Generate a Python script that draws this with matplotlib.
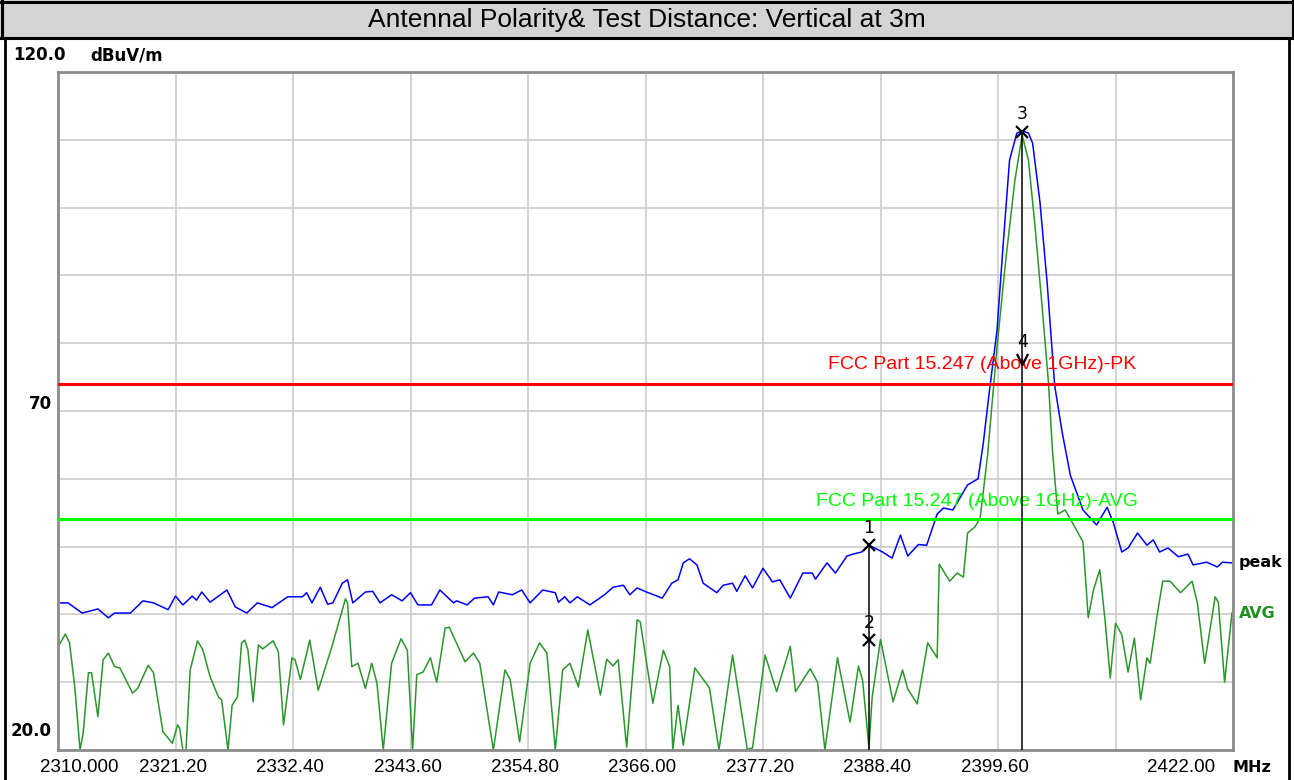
import matplotlib
matplotlib.use("Agg")
import matplotlib.pyplot as plt
from matplotlib.patches import Rectangle
from matplotlib.lines import Line2D
from matplotlib.path import Path

W, H = 1294, 780

title = "Antennal Polarity& Test Distance: Vertical at 3m"

x_ticks = [2310.0, 2321.2, 2332.4, 2343.6, 2354.8, 2366.0, 2377.2, 2388.4, 2399.6, 2410.8, 2422.0]
x_tick_labels = ["2310.000", "2321.20", "2332.40", "2343.60", "2354.80", "2366.00",
                 "2377.20", "2388.40", "2399.60", "", "2422.00"]
y_ticks = [20, 30, 40, 50, 60, 70, 80, 90, 100, 110, 120]

limit_pk = 74.0
limit_avg = 54.0

# peak trace (MHz, dBuV/m)
peak_freq = [2310.0, 2310.95, 2312.3, 2313.8, 2314.8, 2315.4, 2316.9, 2318.1, 2319.1, 2320.5,
             2321.2, 2321.9, 2322.8, 2323.2, 2323.7, 2324.5, 2326.1, 2326.9, 2328.0, 2329.0,
             2330.4, 2331.9, 2333.3, 2333.7, 2334.2, 2335.0, 2335.7, 2336.2, 2337.1, 2337.6,
             2338.1, 2339.3, 2340.0, 2340.7, 2341.8, 2342.8, 2343.6, 2344.3, 2345.6, 2346.4,
             2347.7, 2348.0, 2349.0, 2349.7, 2351.0, 2351.5, 2352.0, 2353.3, 2354.2, 2355.0,
             2356.2, 2357.4, 2357.7, 2358.3, 2358.8, 2359.5, 2360.7, 2362.1, 2362.9, 2363.9,
             2364.5, 2365.2, 2366.1, 2367.6, 2368.5, 2369.1, 2369.6, 2370.2, 2370.9, 2371.5,
             2372.8, 2373.4, 2374.3, 2374.7, 2375.5, 2376.2, 2377.2, 2378.1, 2378.8, 2379.8,
             2381.0, 2381.9, 2382.2, 2383.3, 2384.1, 2385.2, 2385.8, 2386.6, 2387.3, 2388.6,
             2389.5, 2390.3, 2391.0, 2392.0, 2392.8, 2393.8, 2394.4, 2395.3, 2396.7, 2397.7,
             2398.2, 2398.8, 2399.5, 2400.1, 2400.7, 2401.4, 2401.9, 2402.5, 2402.9, 2403.6,
             2404.3, 2405.0, 2405.7, 2406.5, 2407.7, 2409.0, 2410.0, 2410.6, 2411.4, 2412.0,
             2412.9, 2413.8, 2414.4, 2415.0, 2415.8, 2416.8, 2417.7, 2418.2, 2419.5, 2420.5,
             2421.0, 2421.9]
peak_level = [41.7, 41.7, 40.2, 40.8, 39.5, 40.2, 40.2, 42.0, 41.7, 40.7,
              42.7, 41.4, 42.7, 42.1, 43.3, 41.8, 43.6, 41.1, 40.2, 41.7,
              41.0, 42.6, 42.6, 43.2, 41.7, 44.0, 41.5, 41.7, 44.6, 45.1,
              41.7, 43.3, 43.4, 41.7, 42.9, 42.0, 43.2, 41.4, 41.4, 43.6,
              41.7, 42.0, 41.4, 42.4, 42.6, 41.4, 43.3, 42.9, 43.6, 41.7,
              43.6, 43.2, 41.8, 42.6, 41.7, 42.6, 41.4, 42.9, 44.0, 44.3,
              42.9, 43.9, 43.3, 42.4, 44.6, 45.1, 47.6, 48.2, 47.3, 44.6,
              43.2, 44.3, 44.6, 43.4, 45.7, 43.9, 46.8, 44.8, 45.1, 42.4,
              46.1, 46.1, 45.2, 47.6, 46.1, 48.6, 48.9, 49.2, 50.2, 49.2,
              48.3, 51.7, 48.6, 50.3, 50.2, 54.8, 55.7, 55.4, 59.1, 60.0,
              65.3, 73.2, 81.8, 94.7, 107.0, 111.0, 111.3, 111.0, 109.5, 100.8,
              88.6, 73.8, 67.0, 60.5, 55.4, 53.2, 55.8, 53.5, 49.2, 49.8,
              52.0, 50.2, 51.0, 49.2, 49.8, 48.5, 48.9, 47.3, 47.7, 47.0,
              47.7, 47.6]

# average trace
avg_freq = [2310.0, 2310.7, 2311.1, 2311.6, 2312.1, 2312.4, 2312.9, 2313.2, 2313.8, 2314.3,
            2314.8, 2315.4, 2315.9, 2317.1, 2317.6, 2318.6, 2319.1, 2320.0, 2320.9, 2321.4,
            2321.6, 2321.9, 2322.2, 2322.6, 2323.3, 2323.8, 2324.5, 2325.3, 2325.6, 2326.2,
            2326.6, 2327.1, 2327.5, 2327.8, 2328.1, 2328.6, 2329.1, 2329.5, 2330.5, 2331.0,
            2331.5, 2332.3, 2332.6, 2333.1, 2334.0, 2334.8, 2336.1, 2337.4, 2337.6, 2338.0,
            2338.6, 2339.3, 2339.9, 2340.4, 2341.0, 2341.8, 2342.7, 2343.3, 2343.8, 2344.2,
            2344.8, 2345.5, 2346.1, 2346.9, 2347.3, 2348.8, 2349.6, 2350.2, 2351.5, 2352.6,
            2353.1, 2354.0, 2355.0, 2355.9, 2356.6, 2357.4, 2358.1, 2358.8, 2359.6, 2360.5,
            2361.7, 2362.3, 2362.9, 2363.4, 2364.2, 2365.2, 2365.5, 2366.7, 2367.7, 2368.3,
            2368.6, 2369.1, 2369.6, 2370.7, 2371.9, 2372.1, 2373.0, 2374.3, 2375.7, 2376.2,
            2377.4, 2378.5, 2379.8, 2380.3, 2381.7, 2382.4, 2383.1, 2384.3, 2385.5, 2386.3,
            2386.7, 2387.3, 2387.6, 2388.4, 2389.6, 2390.5, 2391.0, 2391.9, 2392.9, 2393.8,
            2394.0, 2395.0, 2395.7, 2396.3, 2396.7, 2397.4, 2397.9, 2398.6, 2399.5, 2400.3,
            2401.2, 2401.9, 2402.5, 2403.1, 2403.8, 2404.4, 2404.8, 2405.3, 2406.0, 2406.7,
            2407.7, 2408.2, 2408.7, 2409.3, 2409.8, 2410.3, 2410.8, 2411.4, 2412.0, 2412.6,
            2413.2, 2413.8, 2414.1, 2414.8, 2415.3, 2416.0, 2417.0, 2418.1, 2418.6, 2419.3,
            2420.3, 2420.6, 2421.2, 2421.9]
avg_level = [35.2, 37.1, 35.8, 29.3, 20.0, 22.5, 31.4, 31.4, 24.9, 33.3,
             34.3, 32.3, 32.1, 28.4, 29.1, 32.5, 31.4, 22.7, 21.0, 23.7,
             23.2, 20.0, 20.0, 31.8, 36.1, 34.8, 30.8, 27.8, 27.4, 20.0,
             26.6, 27.8, 35.8, 36.2, 34.8, 27.1, 35.5, 34.9, 36.1, 34.5,
             23.7, 33.6, 33.3, 30.4, 36.2, 28.8, 35.2, 42.3, 41.7, 32.3,
             32.8, 29.1, 32.8, 29.9, 20.0, 32.8, 36.4, 34.7, 20.0, 31.1,
             31.5, 33.6, 30.0, 38.0, 38.1, 33.0, 34.3, 32.8, 20.0, 31.8,
             30.4, 21.2, 32.8, 35.8, 34.3, 20.0, 31.8, 32.8, 29.3, 37.7,
             28.1, 33.4, 32.4, 33.3, 20.4, 39.2, 38.9, 26.9, 34.7, 32.3,
             20.0, 26.6, 20.7, 32.1, 29.6, 29.1, 20.0, 34.0, 20.1, 20.3,
             34.0, 28.6, 35.3, 28.6, 32.0, 30.0, 20.0, 33.6, 24.1, 32.4,
             30.2, 20.3, 27.7, 36.3, 27.1, 31.8, 29.0, 26.8, 35.8, 33.6,
             47.4, 44.9, 46.1, 45.5, 52.0, 52.9, 54.2, 63.4, 79.3, 91.7,
             103.9, 110.7, 107.0, 97.7, 85.5, 74.4, 64.0, 54.8, 55.4, 53.5,
             50.7, 39.5, 43.6, 46.6, 39.2, 30.6, 38.7, 37.0, 31.5, 36.5,
             27.4, 33.6, 32.8, 40.2, 44.9, 44.9, 43.2, 44.9, 41.7, 32.8,
             42.6, 41.8, 30.0, 40.2]

marker_ids = ["1", "2", "3", "4"]
marker_freq = [2387.3, 2387.3, 2401.9, 2401.9]
marker_level = [50.2, 36.2, 111.2, 77.6]


def fx(px):
    return px / W


def fy(py):
    return 1 - py / H


fig = plt.figure(figsize=(W / 100, H / 100), dpi=100)

# title bar + frame
fig.patches.append(Rectangle((0, fy(38)), 1, 38 / H, transform=fig.transFigure,
                             facecolor="#d4d4d4", edgecolor="none", zorder=0))
for xs, ys, lw in [((0, 1), (fy(1.5), fy(1.5)), 2.2),
                   ((0, 1), (fy(37.5), fy(37.5)), 2.2),
                   ((fx(1.5), fx(1.5)), (fy(0), fy(38)), 2.2),
                   ((fx(1292.5), fx(1292.5)), (fy(0), fy(38)), 2.2),
                   ((fx(5), fx(5)), (fy(38), 0), 2.0),
                   ((fx(1289), fx(1289)), (fy(38), 0), 2.0)]:
    fig.lines.append(Line2D(xs, ys, transform=fig.transFigure, color="black", lw=lw))
fig.text(0.5, fy(20), title, ha="center", va="center", fontsize=19,
         family="Liberation Sans")

ax = fig.add_axes([fx(58), fy(750), 1175 / W, 678 / H])
ax.set_xlim(x_ticks[0], x_ticks[-1])
ax.set_ylim(y_ticks[0], y_ticks[-1])
ax.set_xticks(x_ticks)
ax.set_yticks(y_ticks)
ax.grid(True, color="#cccccc", lw=1.2)
ax.tick_params(length=0, labelbottom=False, labelleft=False)
for s in ax.spines.values():
    s.set_color("#8c8c8c")
    s.set_linewidth(2.0)

ax.plot(avg_freq, avg_level, color="#2b962b", lw=1.1, zorder=2)
ax.plot(peak_freq, peak_level, color="#0000ff", lw=1.1, zorder=2)

ax.axhline(limit_pk, color="#ff0000", lw=2.2, zorder=3)
ax.axhline(limit_avg, color="#00ff00", lw=2.2, zorder=3)
ax.annotate("FCC Part 15.247 (Above 1GHz)-PK", (2398.1, limit_pk), xytext=(0, 11),
            textcoords="offset points", ha="center", va="baseline", color="#ff0000",
            fontsize=14, family="Liberation Sans", zorder=4)
ax.annotate("FCC Part 15.247 (Above 1GHz)-AVG", (2397.6, limit_avg), xytext=(0, 10),
            textcoords="offset points", ha="center", va="baseline", color="#00ff00",
            fontsize=14, family="Liberation Sans", zorder=4)

# markers
ax.vlines(marker_freq[0], y_ticks[0], marker_level[0], color="black", lw=1.1, zorder=5)
ax.vlines(marker_freq[2], y_ticks[0], marker_level[2], color="black", lw=1.1, zorder=5)
vee = Path([(-1, 1), (0, -1), (1, 1)], [Path.MOVETO, Path.LINETO, Path.LINETO])
for mid, f, lv in zip(marker_ids, marker_freq, marker_level):
    mk = vee if mid == "4" else "x"
    ax.plot([f], [lv], marker=mk, ms=8, mew=1.6, color="black", mfc="none",
            linestyle="none", zorder=6, clip_on=False)
    ax.annotate(mid, (f, lv), xytext=(0, 6), textcoords="offset points", ha="center",
                va="bottom", fontsize=12.5, color="black", zorder=6)

# axis labels drawn as text
tr_x = ax.get_xaxis_transform()
for i, (t, lab) in enumerate(zip(x_ticks, x_tick_labels)):
    if not lab:
        continue
    ha = "center"
    dx = -3
    if i == 0:
        ha, dx = "left", -18
    elif i == len(x_ticks) - 1:
        ha, dx = "right", -18
    ax.annotate(lab, (t, 0), xycoords=tr_x, xytext=(dx * 0.72, -12.5),
                textcoords="offset points", ha=ha, va="center", fontsize=13.5,
                family="Liberation Sans")
ax.annotate("MHz", (1, 0), xycoords="axes fraction", xytext=(0, -12.5),
            textcoords="offset points", ha="left", va="center", fontsize=11.5,
            fontweight="bold")

tr_y = ax.get_yaxis_transform()
ax.annotate("120.0", (0, y_ticks[-1]), xycoords=tr_y, xytext=(-45 * 0.72, 12),
            textcoords="offset points", ha="left", va="center", fontsize=12,
            fontweight="bold")
ax.annotate("dBuV/m", (0, y_ticks[-1]), xycoords=tr_y, xytext=(32 * 0.72, 12),
            textcoords="offset points", ha="left", va="center", fontsize=12,
            fontweight="bold")
ax.annotate("70", (0, 70), xycoords=tr_y, xytext=(-6 * 0.72, 5),
            textcoords="offset points", ha="right", va="center", fontsize=12,
            fontweight="bold")
ax.annotate("20.0", (0, y_ticks[0]), xycoords=tr_y, xytext=(-6 * 0.72, 14),
            textcoords="offset points", ha="right", va="center", fontsize=12,
            fontweight="bold")

# trace names at the right end
ax.annotate("peak", (1, peak_level[-1]), xycoords=tr_y, xytext=(4, 0),
            textcoords="offset points", ha="left", va="center", fontsize=11.5,
            fontweight="bold", color="black")
ax.annotate("AVG", (1, avg_level[-1]), xycoords=tr_y, xytext=(4, 0),
            textcoords="offset points", ha="left", va="center", fontsize=11.5,
            fontweight="bold", color="#1f8f1f")

fig.savefig("out.png", dpi=100)
